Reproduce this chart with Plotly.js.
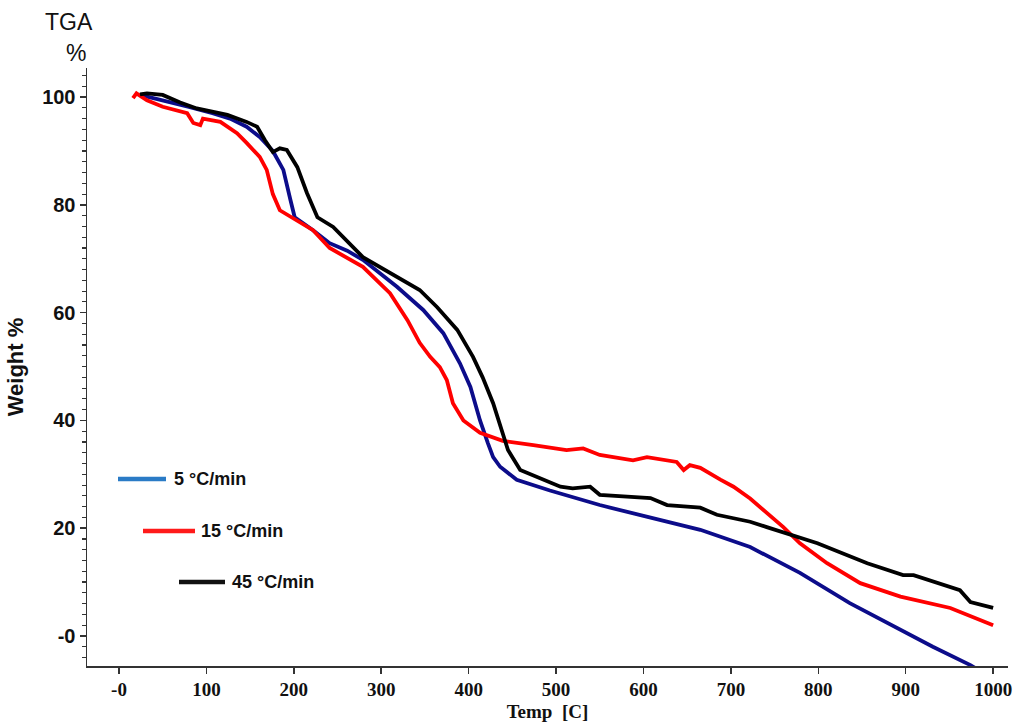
<!DOCTYPE html>
<html>
<head>
<meta charset="utf-8">
<script src="https://cdn.plot.ly/plotly-3.0.1.min.js"></script>
<style>html,body{margin:0;padding:0;background:#fff;}#chart{width:1017px;height:722px;}</style>
</head>
<body>
<div id="chart"></div>
<script>
// Temperature (C) and weight (%)
const blueT = [24, 50, 80, 107, 127, 146, 161, 176, 188, 196, 201, 222, 241, 261, 279, 318, 348, 371, 390, 402, 413, 422, 428, 436, 455, 493, 550, 607, 665, 722, 779, 836, 894, 931, 974, 990];
const blueW = [100.4, 99.4, 98.2, 97, 96, 94.5, 92.6, 90, 86.5, 81, 77.7, 75.3, 72.9, 71.5, 69.8, 64.8, 60.5, 56.2, 50.6, 46.2, 40, 35.8, 33.2, 31.4, 29, 27, 24.3, 22, 19.7, 16.5, 11.7, 6.1, 1.1, -2, -5.4, -7];

const redT = [16, 20, 32, 50, 78, 85, 93, 96, 116, 135, 146, 161, 169, 176, 184, 196, 222, 241, 279, 310, 330, 344, 356, 367, 375, 382, 394, 413, 439, 474, 512, 531, 550, 588, 604, 638, 646, 653, 665, 688, 703, 722, 760, 779, 810, 848, 894, 951, 1000];
const redW = [99.8, 100.7, 99.4, 98.2, 97, 95.2, 94.8, 96, 95.4, 93.3, 91.5, 88.9, 86.5, 82, 79, 77.8, 75.3, 72, 68.5, 63.6, 58.6, 54.4, 51.8, 49.9, 47.5, 43.2, 40, 37.7, 36.2, 35.4, 34.5, 34.8, 33.6, 32.6, 33.2, 32.3, 30.8, 31.7, 31.2, 29, 27.7, 25.5, 20.2, 17.2, 13.5, 9.8, 7.3, 5.2, 2];

const blackT = [24, 32, 50, 70, 89, 124, 146, 158, 167, 176, 184, 192, 204, 215, 227, 245, 279, 318, 344, 364, 387, 405, 416, 428, 439, 445, 459, 482, 505, 519, 539, 550, 588, 608, 627, 665, 684, 722, 741, 799, 856, 897, 909, 962, 974, 1000];
const blackW = [100.5, 100.7, 100.4, 99, 97.9, 96.7, 95.4, 94.5, 92, 89.8, 90.5, 90.2, 87, 82.2, 77.7, 75.9, 70.3, 66.6, 64.2, 61, 56.8, 51.8, 48, 43.2, 37.7, 34.5, 30.8, 29.3, 27.7, 27.4, 27.7, 26.2, 25.8, 25.6, 24.3, 23.8, 22.5, 21.2, 20.2, 17.2, 13.5, 11.3, 11.3, 8.5, 6.3, 5.2];

const seriesNames = ["5 °C/min", "15 °C/min", "45 °C/min"];
const xTickVals = [0, 100, 200, 300, 400, 500, 600, 700, 800, 900, 1000];
const xTickText = ["-0", "100", "200", "300", "400", "500", "600", "700", "800", "900", "1000"];
const yTickVals = [0, 20, 40, 60, 80, 100];
const yTickText = ["-0", "20", "40", "60", "80", "100"];

const lineColors = ["#0c0c8a", "#ff0000", "#000000"];
const legendColors = ["#2a7bc6", "#ff1a1a", "#111111"];

const traces = [
  {x: blueT, y: blueW, name: seriesNames[0], mode: "lines", line: {color: lineColors[0], width: 3.8}},
  {x: redT, y: redW, name: seriesNames[1], mode: "lines", line: {color: lineColors[1], width: 3.8}},
  {x: blackT, y: blackW, name: seriesNames[2], mode: "lines", line: {color: lineColors[2], width: 3.8}}
];

// custom staggered legend (paper coords)
const W = 1017, H = 722, ml = 87, mr = 9, mt = 68, mb = 56;
const pw = W - ml - mr, ph = H - mt - mb;
const px = v => (v - ml) / pw;
const py = v => 1 - (v - mt) / ph;
const legendPos = [
  {x0: 118, x1: 166, y: 479, tx: 172},
  {x0: 143, x1: 195, y: 531, tx: 199},
  {x0: 179, x1: 225, y: 582, tx: 230}
];
const shapes = legendPos.map((p, i) => ({
  type: "line", xref: "paper", yref: "paper",
  x0: px(p.x0), x1: px(p.x1), y0: py(p.y), y1: py(p.y),
  line: {color: legendColors[i], width: 4.5}
}));
const annotations = legendPos.map((p, i) => ({
  xref: "paper", yref: "paper", x: px(p.tx), y: py(p.y),
  xanchor: "left", yanchor: "middle", showarrow: false,
  text: "<b>" + seriesNames[i] + "</b>",
  font: {family: "Liberation Sans, Arial, sans-serif", size: 18, color: "#111"}
}));
annotations.push({
  xref: "paper", yref: "paper", x: px(69), y: py(22), xanchor: "center", yanchor: "middle",
  showarrow: false, text: "TGA", font: {family: "Liberation Sans, Arial, sans-serif", size: 23, color: "#111"}
});
annotations.push({
  xref: "paper", yref: "paper", x: px(76), y: py(53), xanchor: "center", yanchor: "middle",
  showarrow: false, text: "%", font: {family: "Liberation Sans, Arial, sans-serif", size: 23, color: "#111"}
});

const layout = {
  width: W, height: H,
  margin: {l: ml, r: mr, t: mt, b: mb},
  paper_bgcolor: "#fff", plot_bgcolor: "#fff",
  showlegend: false,
  xaxis: {
    range: [-36.6, 1017], showgrid: false, zeroline: false,
    showline: true, linecolor: "#333", linewidth: 1.5,
    ticks: "outside", ticklen: 6, tickcolor: "#333", tickwidth: 1.5,
    tickvals: xTickVals, ticktext: xTickText,
    tickfont: {family: "Liberation Serif, Times New Roman, serif", size: 19, weight: "bold", color: "#111"},
    title: {text: "<b>Temp  [C]</b>", standoff: 6,
      font: {family: "Liberation Serif, Times New Roman, serif", size: 19, color: "#111"}}
  },
  yaxis: {
    range: [-5.57, 105.4], showgrid: false, zeroline: false,
    showline: true, linecolor: "#333", linewidth: 1.5,
    ticks: "outside", ticklen: 6, tickcolor: "#333", tickwidth: 1.5,
    tickvals: yTickVals, ticktext: yTickText,
    minor: {dtick: 2, ticks: "outside", ticklen: 4, tickcolor: "#333", tickwidth: 1.2},
    tickfont: {family: "Liberation Sans, Arial, sans-serif", size: 20, weight: "bold", color: "#111"},
    title: {text: "<b>Weight %</b>", standoff: 12,
      font: {family: "Liberation Sans, Arial, sans-serif", size: 22, color: "#111"}}
  },
  shapes: shapes,
  annotations: annotations
};

Plotly.newPlot("chart", traces, layout, {staticPlot: true, displayModeBar: false});
</script>
</body>
</html>
